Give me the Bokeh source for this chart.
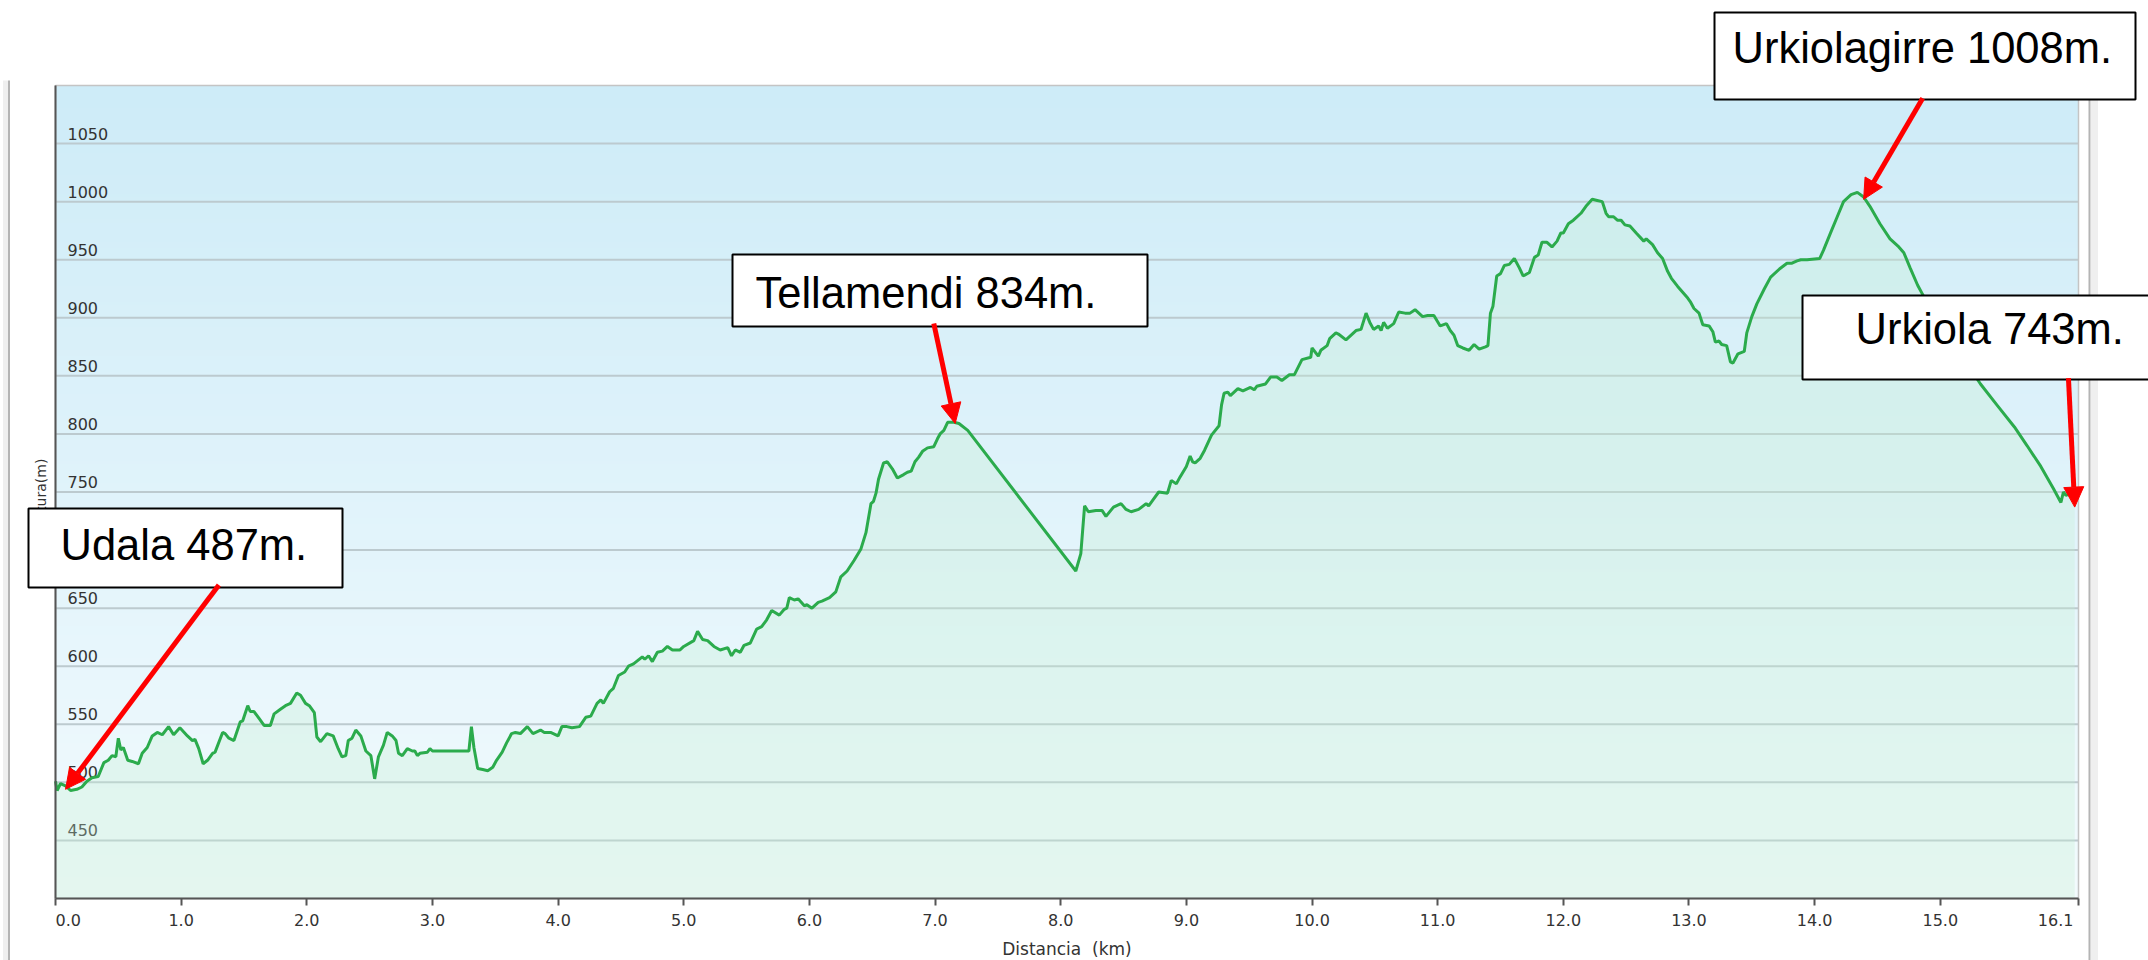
import numpy as np
from bokeh.plotting import figure
from bokeh.models import Range1d, FixedTicker, BoxAnnotation, Label, Arrow, NormalHead, LinearAxis
from bokeh.core.properties import value
from bokeh.embed import file_html
from bokeh.resources import INLINE

# ---------------- data ----------------
distance_km = [
    0.00, 0.013, 0.04, 0.08, 0.12, 0.17, 0.21, 0.25, 0.29, 0.34, 0.385, 0.42, 0.45, 0.48, 0.50, 0.52, 0.54,
    0.575, 0.61, 0.66, 0.69, 0.73, 0.77, 0.81, 0.85, 0.90, 0.94, 0.99, 1.05, 1.09, 1.11, 1.14, 1.175, 1.21,
    1.25, 1.27, 1.33, 1.35, 1.38, 1.42, 1.47, 1.49, 1.53, 1.55, 1.58, 1.62, 1.66, 1.71, 1.74, 1.79, 1.83,
    1.87, 1.92, 1.95, 1.99, 2.02, 2.06, 2.08, 2.11, 2.16, 2.21, 2.25, 2.28, 2.31, 2.33, 2.36, 2.39, 2.43,
    2.47, 2.51, 2.54, 2.57, 2.61, 2.64, 2.68, 2.71, 2.73, 2.76, 2.80, 2.84, 2.86, 2.88, 2.90, 2.96, 2.98,
    3.00, 3.29, 3.31, 3.33, 3.36, 3.40, 3.44, 3.48, 3.51, 3.555, 3.59, 3.63, 3.66, 3.70, 3.755, 3.80, 3.86,
    3.89, 3.94, 4.00, 4.03, 4.07, 4.11, 4.17, 4.22, 4.26, 4.31, 4.34, 4.36, 4.41, 4.44, 4.48, 4.53, 4.56,
    4.60, 4.67, 4.69, 4.72, 4.75, 4.79, 4.83, 4.87, 4.91, 4.97, 5.00, 5.08, 5.11, 5.15, 5.19, 5.24, 5.29,
    5.35, 5.38, 5.41, 5.45, 5.48, 5.53, 5.58, 5.62, 5.66, 5.70, 5.76, 5.80, 5.82, 5.84, 5.88, 5.91, 5.96,
    5.98, 6.02, 6.07, 6.10, 6.16, 6.21, 6.25, 6.30, 6.355, 6.41, 6.45, 6.49, 6.51, 6.53, 6.55, 6.59, 6.62,
    6.66, 6.70, 6.75, 6.78, 6.81, 6.84, 6.87, 6.90, 6.94, 6.99, 7.02, 7.04, 7.07, 7.10, 7.15, 7.19, 7.26,
    8.12, 8.16, 8.19, 8.22, 8.28, 8.33, 8.36, 8.42, 8.48, 8.52, 8.56, 8.62, 8.68, 8.70, 8.74, 8.78, 8.85,
    8.88, 8.92, 8.95, 9.00, 9.03, 9.05, 9.07, 9.11, 9.145, 9.20, 9.26, 9.28, 9.30, 9.33, 9.35, 9.41, 9.45,
    9.51, 9.54, 9.56, 9.63, 9.67, 9.72, 9.76, 9.82, 9.86, 9.92, 9.99, 10.00, 10.05, 10.07, 10.12, 10.14,
    10.19, 10.21, 10.27, 10.35, 10.39, 10.43, 10.46, 10.49, 10.53, 10.55, 10.57, 10.60, 10.65, 10.69,
    10.74, 10.78, 10.82, 10.88, 10.92, 10.97, 11.02, 11.07, 11.10, 11.13, 11.16, 11.20, 11.25, 11.29,
    11.33, 11.38, 11.40, 11.42, 11.44, 11.47, 11.50, 11.53, 11.57, 11.61, 11.65, 11.68, 11.73, 11.77,
    11.80, 11.83, 11.87, 11.91, 11.95, 11.98, 12.00, 12.04, 12.08, 12.14, 12.18, 12.23, 12.27, 12.31,
    12.34, 12.36, 12.40, 12.43, 12.46, 12.49, 12.53, 12.58, 12.64, 12.66, 12.71, 12.75, 12.79, 12.83,
    12.86, 12.91, 12.95, 12.99, 13.01, 13.04, 13.08, 13.11, 13.16, 13.19, 13.21, 13.24, 13.26, 13.30,
    13.33, 13.35, 13.39, 13.44, 13.46, 13.50, 13.54, 13.60, 13.65, 13.72, 13.78, 13.82, 13.86, 13.89,
    13.94, 14.04, 14.07, 14.13, 14.18, 14.23, 14.29, 14.34, 14.39, 14.44, 14.52, 14.60, 14.67, 14.71,
    14.76, 14.82, 14.87, 15.05, 15.21, 15.32, 15.45, 15.59, 15.69, 15.80, 15.90, 15.96, 15.98, 16.00,
    16.04, 16.07,
]
elevation_m = [
    501, 493, 499, 497, 493, 494, 496, 501, 504, 505, 517, 519, 523, 522, 538, 528, 530,
    519, 518, 516, 525, 530, 540, 543, 541, 548, 541, 547, 540, 536, 537, 529, 516, 519,
    525, 526, 543, 542, 538, 536, 552, 553, 566, 561, 561, 555, 549, 549, 559, 563, 566,
    568, 577, 575, 568, 566, 560, 539, 535, 542, 540, 529, 522, 523, 536, 538, 545, 540,
    527, 523, 503, 522, 532, 543, 540, 536, 525, 523, 529, 527, 527, 523, 525, 526, 529,
    527, 527, 548, 530, 512, 511, 510, 513, 519, 526, 534, 542, 543, 542, 548, 542, 545,
    543, 543, 540, 548, 548, 547, 548, 556, 557, 568, 571, 568, 578, 581, 592, 595, 600,
    602, 608, 606, 609, 604, 612, 613, 617, 614, 614, 617, 622, 630, 623, 622, 617, 614,
    616, 609, 614, 612, 618, 620, 632, 634, 640, 648, 644, 649, 650, 659, 657, 658, 652,
    653, 650, 655, 656, 659, 664, 677, 682, 691, 701, 715, 740, 742, 749, 761, 775, 776,
    770, 762, 765, 767, 768, 776, 780, 785, 788, 789, 796, 800, 803, 810, 810, 809, 803,
    682, 697, 738, 733, 734, 734, 729, 737, 740, 735, 733, 735, 740, 738, 744, 750, 749,
    760, 757, 763, 772, 781, 776, 775, 779, 786, 799, 807, 825, 835, 836, 833, 839, 837,
    840, 838, 841, 843, 849, 849, 846, 851, 851, 864, 866, 874, 867, 872, 876, 882,
    887, 886, 881, 889, 890, 904, 896, 890, 893, 889, 896, 891, 895, 905,
    904, 904, 907, 901, 902, 902, 893, 895, 889, 885, 876, 874, 872, 877,
    873, 875, 876, 904, 910, 936, 938, 945, 946, 951, 943, 936, 939, 952,
    954, 965, 965, 961, 966, 973, 973, 981, 984, 990, 996, 1002, 1001, 1000,
    990, 987, 987, 984, 984, 980, 979, 973, 966, 968, 963, 956, 951, 940,
    934, 927, 922, 917, 914, 908, 904, 894, 893, 888, 879, 880, 877, 876,
    862, 861, 869, 871, 887, 901, 912, 925, 935, 942, 947, 947, 949, 950,
    950, 951, 958, 974, 987, 1000, 1006, 1008, 1004, 996, 981, 968, 961, 956,
    943, 928, 918, 887, 861, 843, 825, 806, 790, 772, 753, 741, 750, 747,
    749, 746,
]

y_ticks = [450, 500, 550, 600, 650, 700, 750, 800, 850, 900, 950, 1000, 1050]
y_tick_labels = ["450", "500", "550", "600", "650", "700", "750", "800", "850", "900", "950", "1000", "1050"]
x_ticks = [0, 1, 2, 3, 4, 5, 6, 7, 8, 9, 10, 11, 12, 13, 14, 15, 16.1]
x_tick_labels = ["0.0", "1.0", "2.0", "3.0", "4.0", "5.0", "6.0", "7.0", "8.0", "9.0", "10.0",
                 "11.0", "12.0", "13.0", "14.0", "15.0", "16.1"]

x_title = "Distancia\u00a0 (km)"
y_title = "Altura(m)"

# annotations: label, marked point (km, m), arrow tail (km, m)
ann_texts = ["Udala 487m.", "Tellamendi 834m.", "Urkiolagirre 1008m.", "Urkiola 743m."]
ann_tip_x = [0.08, 7.16, 14.39, 16.07]
ann_tip_y = [494, 809, 1002, 737]
ann_tail_x = [1.30, 6.99, 14.86, 16.02]
ann_tail_y = [670, 895, 1089, 848]

X_MIN, X_MAX = 0.0, 16.1
Y_MIN, Y_MAX = 400, 1100

# ---------------- layout geometry (pixels) ----------------
CANVAS_W, CANVAS_H = 2148, 960
PLOT_L, PLOT_R, PLOT_T, PLOT_B = 55, 2078, 85, 898
ppk = (PLOT_R - PLOT_L) / (X_MAX - X_MIN)     # px per km
ppm = (PLOT_B - PLOT_T) / (Y_MAX - Y_MIN)     # px per metre


def dx(px):
    return X_MIN + (px - PLOT_L) / ppk


def dy(py):
    return Y_MAX - (py - PLOT_T) / ppm


# annotation boxes in pixels: left, right, top, bottom ; text left, baseline
box_px = [(28, 342, 508, 587), (732, 1147, 254, 326), (1714, 2135, 12, 99), (1802, 2300, 295, 379)]
text_px = [(60, 544), (755, 292), (1732, 47), (1855, 328)]

p = figure(width=CANVAS_W, height=CANVAS_H, output_backend="svg", toolbar_location=None,
           x_range=Range1d(dx(0), dx(CANVAS_W)), y_range=Range1d(dy(CANVAS_H), dy(0)),
           x_axis_location=None, y_axis_location=None, min_border=0,
           background_fill_color="white", border_fill_color="white")
p.outline_line_color = None
p.grid.visible = False

# page chrome (thin grey frame lines of the original page)
p.segment(x0=[dx(5), dx(2094)], y0=[dy(80), dy(80)], x1=[dx(5), dx(2094)], y1=[dy(CANVAS_H + 20)] * 2,
          line_color="#efefef", line_width=[5, 7])
p.segment(x0=[dx(8.5), dx(2089)], y0=[dy(80), dy(80)], x1=[dx(8.5), dx(2089)], y1=[dy(CANVAS_H + 20)] * 2,
          line_color="#b4b4b4", line_width=2)

# gradient background of the plotting area
n = 256
t = np.linspace(0.0, 1.0, n)
c_bottom = np.array([243, 251, 254], dtype=float)
c_top = np.array([206, 236, 248], dtype=float)
rgb = c_bottom[None, :] + (c_top - c_bottom)[None, :] * t[:, None]
img = np.zeros((n, 1), dtype=np.uint32)
view = img.view(dtype=np.uint8).reshape((n, 1, 4))
view[:, 0, 0] = rgb[:, 0].astype(np.uint8)
view[:, 0, 1] = rgb[:, 1].astype(np.uint8)
view[:, 0, 2] = rgb[:, 2].astype(np.uint8)
view[:, 0, 3] = 255
p.image_rgba(image=[img], x=X_MIN, y=Y_MIN, dw=X_MAX - X_MIN, dh=Y_MAX - Y_MIN)

# horizontal grid lines at the y ticks
p.segment(x0=[X_MIN] * len(y_ticks), x1=[X_MAX] * len(y_ticks), y0=y_ticks, y1=y_ticks,
          line_color="#bccacf", line_width=2)
# light plot border
p.quad(left=[X_MIN], right=[X_MAX], bottom=[Y_MIN], top=[Y_MAX], fill_color=None,
       line_color="#c4c4c4", line_width=1.5)

# y tick labels drawn inside the plot
p.text(x=[X_MIN] * len(y_ticks), y=y_ticks, text=y_tick_labels, x_offset=12, y_offset=-10,
       text_font=value("DejaVu Sans"), text_font_size="16px", text_color="#333333",
       text_align="left", text_baseline="alphabetic")

# elevation profile
p.varea(x=distance_km, y1=Y_MIN, y2=elevation_m, fill_color="#c2efd2", fill_alpha=0.3)
p.line(distance_km, elevation_m, line_color="#2bab4c", line_width=3)

# axes
nb = "\u00a0"
overrides = dict(zip(x_ticks, x_tick_labels))
overrides[x_ticks[0]] = nb * 5 + x_tick_labels[0]
overrides[x_ticks[-1]] = x_tick_labels[-1] + nb * 9
xaxis = LinearAxis(fixed_location=Y_MIN, bounds=(X_MIN, X_MAX), ticker=FixedTicker(ticks=x_ticks),
                   major_label_overrides=overrides, minor_tick_line_color=None,
                   major_tick_in=0, major_tick_out=7, major_tick_line_color="#555555", major_tick_line_width=2,
                   axis_line_color="#555555", axis_line_width=2, major_label_standoff=5,
                   major_label_text_font="DejaVu Sans", major_label_text_font_size="16px",
                   major_label_text_color="#333333", axis_label=x_title, axis_label_standoff=6,
                   axis_label_text_font="DejaVu Sans", axis_label_text_font_size="17px",
                   axis_label_text_font_style="normal", axis_label_text_color="#333333")
p.add_layout(xaxis, "below")
yaxis = LinearAxis(fixed_location=X_MIN, bounds=(Y_MIN, Y_MAX), ticker=FixedTicker(ticks=[]),
                   minor_tick_line_color=None, major_tick_line_color=None,
                   axis_line_color="#555555", axis_line_width=2,
                   axis_label=y_title, axis_label_standoff=7, axis_label_text_font="DejaVu Sans",
                   axis_label_text_font_size="14px", axis_label_text_font_style="normal",
                   axis_label_text_color="#333333")
p.add_layout(yaxis, "left")

# annotation boxes, texts, arrows
for i in range(len(ann_texts)):
    l, r, tp, bt = box_px[i]
    p.add_layout(BoxAnnotation(left=dx(l), right=dx(r), bottom=dy(bt), top=dy(tp),
                               fill_color="white", fill_alpha=1.0, line_color="black", line_width=2,
                               line_alpha=1.0))
    tx, ty = text_px[i]
    p.add_layout(Label(x=dx(tx), y=dy(ty), text=ann_texts[i], text_font="Liberation Sans",
                       text_font_size="43.5px", text_color="black", text_align="left",
                       text_baseline="alphabetic"))
for i in range(len(ann_texts)):
    p.add_layout(Arrow(end=NormalHead(size=20, fill_color="red", line_color="red", line_width=1),
                       x_start=ann_tail_x[i], y_start=ann_tail_y[i], x_end=ann_tip_x[i], y_end=ann_tip_y[i],
                       line_color="red", line_width=5))

open("out.html", "w").write(file_html(p, INLINE))
